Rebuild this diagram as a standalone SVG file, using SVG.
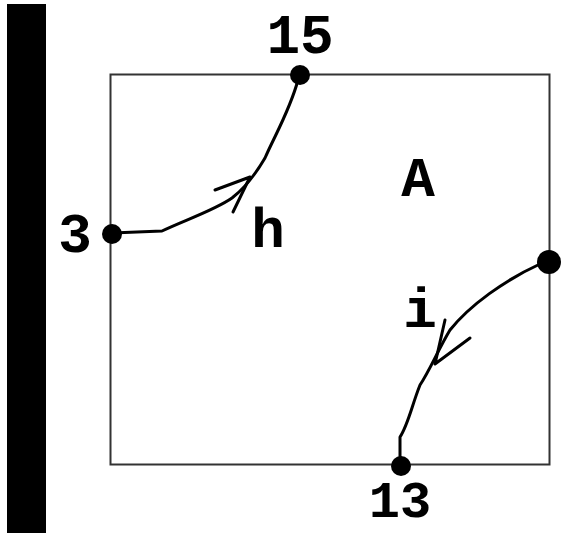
<svg xmlns="http://www.w3.org/2000/svg" width="561" height="533" viewBox="0 0 561 533">
<style>
.lbl{font-family:"Liberation Mono","Courier New",monospace;font-weight:bold;font-size:56px;fill:#000;text-anchor:middle}
.edge{fill:none;stroke:#000;stroke-width:3;stroke-linecap:round;stroke-linejoin:round}
.dot{fill:#000}
</style>
<rect x="0" y="0" width="561" height="533" fill="#fff"/>
<rect id="wall" x="7" y="4" width="39" height="529" fill="#000"/>
<g id="region-A">
<rect x="110.5" y="74.5" width="439" height="390" fill="none" stroke="#333" stroke-width="2"/>
<text class="lbl" x="418" y="196">A</text>
</g>
<g id="connectors">
<path class="edge" d="M112,233 L162,231 C185,220 215,210 232,198 C245,188 255,175 265,158 C275,135 290,110 298,80"/>
<path class="edge" d="M215,190 L250,177 L233,212"/>
<path class="edge" d="M540,264 C505,280 470,305 450,330 C438,350 430,370 420,385 C412,405 408,425 400,437 L400,466"/>
<path class="edge" d="M445,320 L435,364 L470,338"/>
<text class="lbl" x="268" y="247">h</text>
<text class="lbl" x="420" y="327">i</text>
</g>
<g id="n15"><circle class="dot" cx="300" cy="75" r="10"/><text class="lbl" x="300" y="53">15</text></g>
<g id="n3"><circle class="dot" cx="112" cy="234" r="10"/><text class="lbl" x="75" y="252">3</text></g>
<g id="n-right"><circle class="dot" cx="549" cy="262" r="12"/></g>
<g id="n13"><circle class="dot" cx="401" cy="466" r="10"/><text class="lbl" x="400" y="517" style="font-size:52px">13</text></g>
</svg>
